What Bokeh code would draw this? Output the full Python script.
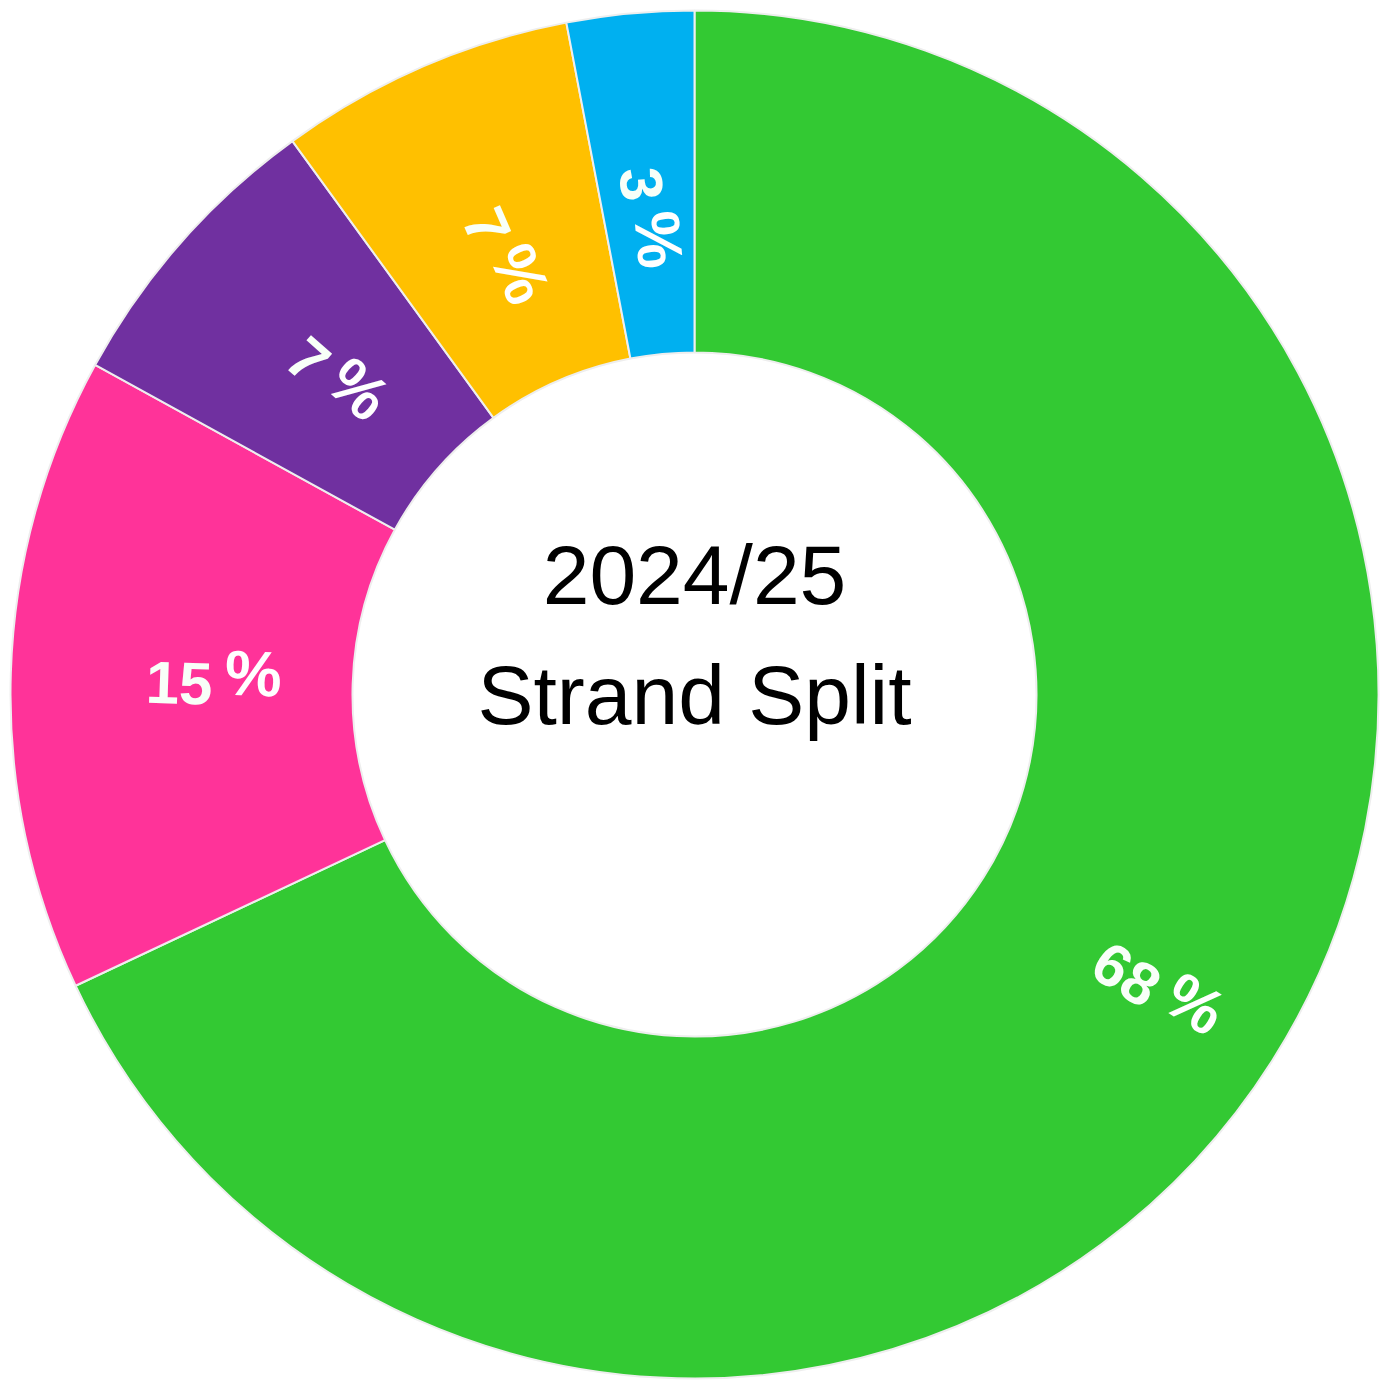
import math
from bokeh.plotting import figure
from bokeh.models import ColumnDataSource
from bokeh.core.properties import value
from bokeh.embed import file_html
from bokeh.resources import INLINE

# ---- data ----
categories = ["Green", "Pink", "Purple", "Yellow", "Blue"]
values = [68, 15, 7, 7, 3]
labels = ["68", "15", "7", "7", "3"]
colors = ["#33C933", "#FF3399", "#7030A0", "#FFC000", "#00B0F0"]
center_title = ["2024/25", "Strand Split"]

# ---- layout ----
W, H = 1388, 1380
cx, cy = 694, H - 694
r_in, r_out = 342, 684
label_r = [548, 482, 478, 479, 480]

p = figure(width=W, height=H, x_range=(0, W), y_range=(0, H),
           output_backend="svg", toolbar_location=None, min_border=0,
           x_axis_type=None, y_axis_type=None)
p.grid.visible = False
p.outline_line_color = None
p.background_fill_color = "white"
p.border_fill_color = "white"

total = float(sum(values))
starts, ends = [], []
cum = 0.0
for v in values:
    a0 = math.radians(90 - (cum + v) / total * 360)
    a1 = math.radians(90 - cum / total * 360)
    starts.append(a0)
    ends.append(a1)
    cum += v

src = ColumnDataSource(dict(cat=categories, start=starts, end=ends, color=colors))
p.annular_wedge(x=cx, y=cy, inner_radius=r_in, outer_radius=r_out,
                start_angle="start", end_angle="end", direction="anticlock",
                fill_color="color", line_color="#eeeeee", line_width=2, source=src)

# ---- labels ----
nx, ny, nang, ntext = [], [], [], []
px, py, pang = [], [], []
digit_w, gap, pct_w = 33, 12, 54
cum = 0.0
for v, lab, rr in zip(values, labels, label_r):
    mid = math.radians(90 - (cum + v / 2) / total * 360)
    cum += v
    theta = mid if math.cos(mid) >= -1e-9 else mid - math.pi
    Cx = cx + rr * math.cos(mid)
    Cy = cy + rr * math.sin(mid)
    ux, uy = math.cos(theta), math.sin(theta)
    vx, vy = -math.sin(theta), math.cos(theta)
    wn = digit_w * len(lab)
    Wt = wn + gap + pct_w
    s1 = -Wt / 2 + wn
    s2 = s1 + gap
    nx.append(Cx + ux * s1 + vx * (-5))
    ny.append(Cy + uy * s1 + vy * (-5))
    nang.append(theta)
    ntext.append(lab)
    px.append(Cx + ux * s2 + vx * 7)
    py.append(Cy + uy * s2 + vy * 7)
    pang.append(theta)

p.text(x=nx, y=ny, text=ntext, angle=nang, text_align="right", text_baseline="middle",
       text_color="#f8fff8", text_font=value("Liberation Sans"), text_font_style="bold",
       text_font_size="60px")
p.text(x=px, y=py, text=["%"] * len(px), angle=pang, text_align="left", text_baseline="middle",
       text_color="white", text_font=value("Liberation Sans"), text_font_style="bold",
       text_font_size="64px")

# ---- center text ----
p.text(x=[cx, cx], y=[H - 574, H - 694], text=center_title, text_align="center",
       text_baseline="alphabetic", text_color="black",
       text_font=value("Liberation Sans"), text_font_size="84px")

open("out.html", "w").write(file_html(p, INLINE))
